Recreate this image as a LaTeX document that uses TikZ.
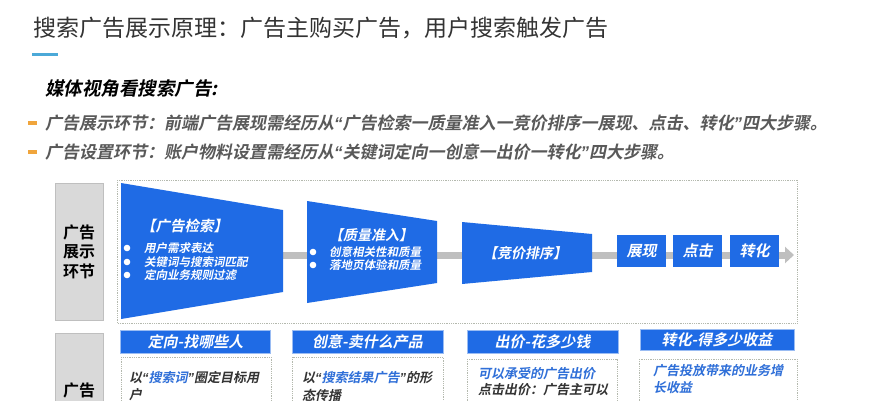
\documentclass[tikz,border=0pt]{standalone}
\usepackage{fontspec}
\setmainfont{Noto Sans CJK SC}[
    ItalicFont=Noto Sans CJK SC, ItalicFeatures={FakeSlant=0.2},
    BoldFont=Noto Sans CJK SC Bold,
    BoldItalicFont=Noto Sans CJK SC Bold, BoldItalicFeatures={FakeSlant=0.2}]
\newfontfamily\quotefont{Liberation Sans}
\newcommand{\lqt}{{\quotefont “}}
\newcommand{\rqt}{{\quotefont ”}}
\usepackage{tikz}
\usetikzlibrary{arrows.meta,positioning}

\definecolor{title_gray}{HTML}{333333}
\definecolor{note_gray}{HTML}{595959}
\definecolor{line_blue}{HTML}{4BA9D8}
\definecolor{dash_orange}{HTML}{F0A53C}
\definecolor{ad_blue}{HTML}{1F6BE5}
\definecolor{hl_blue}{HTML}{2F6FD8}
\definecolor{side_gray}{HTML}{D9D9D9}
\definecolor{flow_gray}{HTML}{BFBFBF}
\definecolor{frame_gray}{HTML}{B4B9AE}

\tikzset{
    txt/.style={inner sep=0pt, anchor=west},
    bi/.style={font=\bfseries\itshape\fontsize{#1}{#1}\selectfont},
    side_box/.style={draw=flow_gray, fill=side_gray, minimum width=48pt, align=center,
        font=\bfseries\fontsize{16}{19.5}\selectfont, text=black},
    step_fill/.style={fill=ad_blue},
    step_box/.style={fill=ad_blue, minimum width=49pt, minimum height=32pt, text=white,
        bi=15},
    head_bar/.style={fill=ad_blue, draw=ad_blue!45, line width=1pt, text=white, bi=15},
    dot_frame/.style={draw=frame_gray, densely dotted, line width=0.8pt},
    flow_arrow/.style={draw=flow_gray, line width=7pt, -{Triangle[length=9pt,width=16pt]}},
    bullet_dot/.style={fill=white}
}

\begin{document}
\begin{tikzpicture}[x=1pt,y=-1pt]
    \useasboundingbox (0,0) rectangle (896,400);
    \clip (0,0) rectangle (896,400);
    \fill[white] (0,0) rectangle (896,400);

    % title and notes
    \node[txt, text=title_gray, font=\fontsize{23}{26}\selectfont] (title) at (33,28)
        {搜索广告展示原理：广告主购买广告，用户搜索触发广告};
    \draw[line_blue, line width=3pt] (32,54) -- (58,54);

    \node[txt, bi=18.5, text=black] (media_view) at (45,89) {媒体视角看搜索广告:};
    \draw[dash_orange, line width=4pt] (28,123) -- (37,123);
    \draw[dash_orange, line width=4pt] (28,152) -- (37,152);
    \node[txt, bi=17, text=note_gray] (show_note) at (45,123)
        {广告展示环节：前端广告展现需经历从\lqt 广告检索一质量准入一竞价排序一展现、点击、转化\rqt 四大步骤。};
    \node[txt, bi=17, text=note_gray] (set_note) at (45,152)
        {广告设置环节：账户物料设置需经历从\lqt 关键词定向一创意一出价一转化\rqt 四大步骤。};

    % show steps
    \node[side_box, minimum height=137pt] (show_side) at (79,251.5) {广告\\展示\\环节};
    \draw[dot_frame] (117,180) rectangle (797,323);

    \coordinate (flow_start) at (283,255);
    \coordinate (flow_end) at (794,255);
    \draw[flow_arrow] (flow_start) -- (flow_end);

    \fill[step_fill] (121,183) -- (283,210) -- (283,292) -- (121,319) -- cycle;
    \node[txt, bi=14.5, text=white] (retrieve_title) at (141,226) {【广告检索】};
    \foreach \y/\t [count=\i] in {248/用户需求表达, 262/关键词与搜索词匹配, 275/定向业务规则过滤} {
        \fill[bullet_dot] (127,\y) circle (3.3);
        \node[txt, bi=11.5, text=white] (retrieve_\i) at (144,\y) {\t};
    }

    \fill[step_fill] (307,201) -- (437,221) -- (437,283) -- (307,303) -- cycle;
    \node[txt, bi=14, text=white] (quality_title) at (329,235) {【质量准入】};
    \foreach \y/\t [count=\i] in {252/创意相关性和质量, 265/落地页体验和质量} {
        \fill[bullet_dot] (313,\y) circle (3.3);
        \node[txt, bi=11.5, text=white] (quality_\i) at (329,\y) {\t};
    }

    \fill[step_fill] (462,222) -- (592,234) -- (592,272) -- (462,284) -- cycle;
    \node[bi=14, text=white, inner sep=0pt] (rank_title) at (525,253) {【竞价排序】};

    \node[step_box] (show_step) at (641.5,251) {展现};
    \node[step_box] (click_step) at (697.5,251) {点击};
    \node[step_box] (convert_step) at (754.5,251) {转化};

    % setting steps
    \draw[draw=flow_gray, fill=side_gray] (55,333) rectangle (103,420);
    \node[font=\bfseries\fontsize{16}{16}\selectfont, text=black, inner sep=0pt] (set_side) at (79,390) {广告};

    \node[head_bar, minimum width=150pt, minimum height=23pt] (target_head) at (195.5,341.5) {定向-找哪些人};
    \node[head_bar, minimum width=151pt, minimum height=23pt] (idea_head) at (367.5,341.5) {创意-卖什么产品};
    \node[head_bar, minimum width=151pt, minimum height=23pt] (bid_head) at (542.5,341.5) {出价-花多少钱};
    \node[head_bar, minimum width=154pt, minimum height=20pt] (gain_head) at (717,340) {转化-得多少收益};

    \draw[dot_frame] (121,357) rectangle (271,420);
    \draw[dot_frame] (292,357) rectangle (443,420);
    \draw[dot_frame] (467,359) rectangle (617,420);
    \draw[dot_frame] (639,359) rectangle (797,420);

    \node[txt, bi=13, text=title_gray] (target_1) at (129,378) {以\lqt\textcolor{hl_blue}{搜索词}\rqt 圈定目标用};
    \node[txt, bi=13, text=title_gray] (target_2) at (129,395) {户};
    \node[txt, bi=13, text=title_gray] (idea_1) at (302,378) {以\lqt\textcolor{hl_blue}{搜索结果广告}\rqt 的形};
    \node[txt, bi=13, text=title_gray] (idea_2) at (302,395) {态传播};
    \node[txt, bi=13, text=hl_blue] (bid_1) at (478,374) {可以承受的广告出价};
    \node[txt, bi=13, text=title_gray] (bid_2) at (478,390) {点击出价：广告主可以};
    \node[txt, bi=13, text=hl_blue] (gain_1) at (653,371) {广告投放带来的业务增};
    \node[txt, bi=13, text=hl_blue] (gain_2) at (653,388) {长收益};
\end{tikzpicture}
\end{document}
